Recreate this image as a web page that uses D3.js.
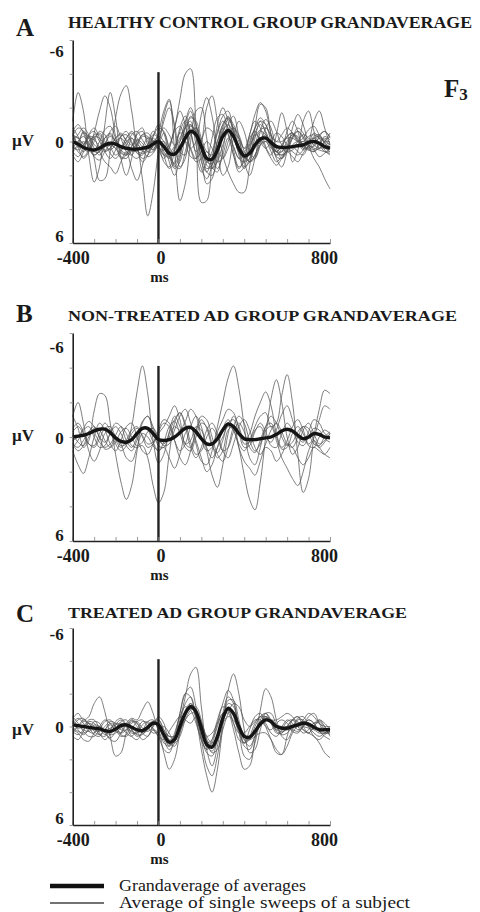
<!DOCTYPE html>
<html>
<head>
<meta charset="utf-8">
<script src="https://cdn.jsdelivr.net/npm/d3@7"></script>
<style>
  body { margin: 0; background: #fff; }
  svg { display: block; }
  text { font-family: "Liberation Serif", "Times New Roman", serif; fill: #1a1a1a; }
</style>
</head>
<body>
<div id="chart"></div>
<script>
// sample times (ms), one value every 25 ms
const timesMs = [-400,-375,-350,-325,-300,-275,-250,-225,-200,-175,-150,-125,-100,-75,-50,-25,
  0,25,50,75,100,125,150,175,200,225,250,275,300,325,350,375,
  400,425,450,475,500,525,550,575,600,625,650,675,700,725,750,775,800];

const xTickValues = [-400,-300,-200,-100,0,100,200,300,400,500,600,700,800];
const xTickLabels = [-400, 0, 800];
const yTickValues = [-6,-4,-2,0,2,4,6];
const yTickLabels = [-6, 0, 6];

const panelLetters = ["A", "B", "C"];
const panelTitles = [
  "HEALTHY CONTROL GROUP GRANDAVERAGE",
  "NON-TREATED AD GROUP GRANDAVERAGE",
  "TREATED AD GROUP GRANDAVERAGE"
];
const legendLabels = ["Grandaverage of averages", "Average of single sweeps of a subject"];

// µV, negative up. Grand averages
const gaA = [0,0.15,0.35,0.45,0.5,0.4,0.2,0.1, 0.15,0.3,0.4,0.45,0.45,0.4,0.35,0.15,
  0,0.3,0.7,0.75,0.4,-0.2,-0.6,-0.4, 0.3,1.0,1.05,0.5,-0.3,-0.65,-0.3,0.4,
  0.85,0.7,0.2,-0.15,-0.2,0.05,0.3,0.35, 0.35,0.3,0.25,0.2,0.05,0,0.1,0.3,0.4];
const gaB = [0,-0.05,-0.1,-0.2,-0.35,-0.45,-0.45,-0.25, 0.05,0.25,0.3,0.15,-0.2,-0.5,-0.5,-0.2,
  0.15,0.2,0.15,0,-0.25,-0.5,-0.55,-0.3, 0.1,0.4,0.4,0.1,-0.4,-0.75,-0.6,-0.2,
  0.1,0.15,0.15,0.1,0.05,0,-0.15,-0.35, -0.45,-0.35,-0.1,0.1,0,-0.2,-0.15,0,0.05];
const gaC = [-0.1,-0.05,0,0.05,0.1,0.15,0.25,0.3, 0.15,-0.05,-0.1,0.05,0.2,0.25,0.05,-0.2,
  -0.1,0.5,0.95,0.8,0,-0.8,-1.2,-0.9, 0.1,1.1,1.25,0.6,-0.5,-1.1,-0.8,0,
  0.6,0.65,0.3,-0.15,-0.4,-0.3,0,0.1, 0.1,0,-0.1,-0.2,-0.15,0.05,0.2,0.2,0.2];

// single-subject averages
const subjectsA = [
  [-1.2,-2.9,-1.8,0.8,2.4,1.5,-1.0,-2.9, -1.4,1.0,2.0,1.0,-0.5,-0.8,0.2,0.5, 0.2,-0.5,0.5,1.5,0.8,-1.0,-1.8,-0.5, 1.2,1.8,1.0,-0.5,-1.2,-0.8,0.3,1.0, 1.2,0.5,-0.5,-1.0,-0.6,0.2,0.6,0.3, -0.3,-0.5,0.0,0.5,0.3,-0.3,-0.4,0.1,0.4],
  [0.5,0.2,-0.6,-0.2,1.0,2.3,2.2,0.6, -1.4,-2.8,-3.3,-1.8,0.3,1.2,0.8,-0.3, -1.0,-0.5,0.8,1.6,1.2,-0.3,-1.5,-1.0, 0.5,1.8,2.0,1.0,-0.5,-1.3,-0.8,0.5, 1.5,1.2,0.2,-0.6,-0.4,0.3,0.8,0.6, 0.0,-0.4,-0.2,0.3,0.5,0.2,-0.2,-0.1,0.2],
  [-0.5,0.3,1.0,0.6,-0.5,-1.8,-2.7,-2.0, -0.3,1.0,0.8,-0.2,0.3,2.2,4.4,3.0, 0.5,-1.5,-2.4,-0.8,1.5,1.0,-1.0,-0.5, 1.0,2.5,2.2,0.6,-0.8,-1.5,-0.6,0.8, 1.6,1.0,-0.2,-1.2,-1.0,0.0,0.9,1.0, 0.4,-0.3,-0.6,-0.2,0.4,0.6,0.2,-0.2,0.1],
  [0.3,0.0,-0.5,-0.3,0.4,0.8,0.3,-0.6, -0.9,-0.2,0.6,0.8,0.2,-0.4,-0.5,0.0, 0.4,0.5,0.2,-0.8,-2.5,-4.0,-4.3,-1.0, 3.6,3.5,1.2,-1.0,-2.0,-1.2,0.5,1.5, 1.2,0.2,-0.8,-1.2,-0.5,0.4,0.6,0.2, -0.3,-0.5,-0.1,0.4,0.3,-0.2,-0.3,0.1,0.3],
  [-0.3,-0.8,-0.6,0.2,0.8,0.5,-0.2,-0.5, 0.0,0.6,0.8,0.3,-0.4,-0.6,0.0,0.5, -0.5,-1.8,-2.5,0.5,3.5,2.5,0.0,-1.8, -2.0,-0.2,1.5,1.8,0.5,-1.0,-1.5,-0.3, 1.2,2.0,1.0,-0.6,-1.3,-0.8,0.4,1.0, 0.6,-0.2,-0.6,-0.3,0.3,0.5,0.1,-0.3,-0.1],
  [0.8,1.2,0.6,-0.4,-0.8,-0.2,0.6,1.0, 0.5,-0.3,-0.6,0.0,0.7,0.8,0.2,-0.4, -0.2,0.6,1.0,0.5,-0.6,-1.2,-0.5,0.6, 0.0,-2.0,-2.7,-1.2,0.8,1.8,2.5,3.0, 3.0,1.5,-0.8,-2.2,-2.0,-0.4,1.0,1.5, 0.6,-0.8,-1.6,-1.0,0.2,1.0,1.5,2.2,2.8],
  [-0.8,-0.3,0.4,0.6,0.0,-0.6,-0.4,0.3, 0.8,0.5,-0.2,-0.5,0.0,0.6,0.5,0.0, 0.3,1.2,1.5,0.6,-0.8,-1.5,-0.6,0.8, 1.8,1.2,-0.2,-1.4,-1.6,-0.5,0.8,1.6, 1.0,-0.4,-1.2,-0.8,0.3,0.8,-0.4,-1.7, -0.6,1.2,0.5,-1.2,-1.8,-0.6,0.4,0.0,-0.5],
  [0.2,0.6,0.9,0.5,-0.2,-0.5,0.0,0.7, 1.0,0.6,0.0,-0.2,0.4,1.0,0.8,0.2, -0.3,0.0,1.2,2.0,1.0,-0.8,-1.2,0.2, 1.6,2.2,1.4,0.0,-0.8,-0.4,0.8,1.8, 1.5,0.4,-0.4,-0.2,0.4,1.0,1.4,1.0, 0.5,0.3,0.6,0.8,0.2,-0.5,-0.2,0.5,0.8],
  [-0.6,-1.0,-0.5,0.3,0.5,0.0,-0.7,-0.9, -0.2,0.4,0.2,-0.4,-0.6,-0.1,0.3,-0.3, -0.8,-0.6,0.3,0.8,0.0,-1.2,-2.0,-1.0, 0.5,1.2,0.6,-0.6,-1.5,-1.8,-0.6,0.6, 0.8,0.0,-0.8,-1.4,-1.0,-0.3,0.0,-0.4, -0.8,-0.5,0.0,-0.2,-0.7,-0.9,-0.4,0.0,0.2],
  [0.6,0.9,0.4,-0.3,-0.2,0.6,1.2,1.5, 1.9,1.2,0.6,1.6,2.3,1.4,0.2,-0.6, -0.2,0.8,1.6,1.2,0.2,0.0,0.5,1.2, 1.0,0.6,1.0,1.6,0.8,-0.2,0.3,1.0, 0.9,1.2,1.0,0.2,0.0,0.6,1.2,0.9, 0.6,0.9,1.2,0.7,0.3,0.5,0.9,0.7,0.4],
  [-0.2,0.3,0.2,-0.4,-0.6,0.0,0.5,0.4, -0.2,-0.5,0.0,0.5,0.2,-0.3,-0.2,0.4, 0.0,-1.2,-2.0,-1.0,0.6,0.8,-0.4,-0.8, 0.2,1.4,1.6,0.4,-1.0,-1.4,-0.5,0.6, 0.6,-0.2,-0.6,0.0,0.4,0.0,-0.5,-0.3, 0.2,0.4,0.0,-0.4,-0.2,0.2,0.4,0.0,-0.3],
  [0.0,-0.4,-0.8,-0.4,0.2,0.3,-0.2,-0.4, 0.0,0.3,-0.2,-0.6,-0.2,0.3,0.2,-0.2, 0.2,0.8,0.4,-0.8,-1.8,-1.0,0.4,0.0, -1.6,-2.6,-1.5,0.6,2.0,1.5,-0.2,-1.2, -0.6,0.6,1.0,0.2,-0.8,-1.2,-0.6,0.2, 0.4,-0.2,-0.8,-0.5,0.2,0.3,-0.3,-0.6,-0.2],
  [0.4,0.0,-0.3,0.1,0.6,0.6,0.1,-0.3, 0.0,0.5,0.7,0.3,-0.1,0.1,0.6,0.6, 0.1,0.2,0.6,0.3,-0.5,-0.4,0.4,1.0, 0.6,0.0,0.4,1.2,1.0,0.0,-0.8,-0.4, 0.6,1.2,0.8,0.0,-0.4,0.2,0.8,0.4, -0.6,-1.2,-0.6,0.4,0.0,-1.2,-1.8,-0.8,0.2],
  [-0.4,0.2,0.6,0.2,-0.4,-0.4,0.2,0.5, 0.2,-0.3,-0.4,0.1,0.5,0.3,-0.2,-0.1, 0.5,1.0,0.4,-0.6,-0.9,0.0,0.9,1.0, 0.0,-0.8,-0.6,0.4,1.0,0.4,-0.4,-0.2, 0.4,-0.4,-1.6,-2.3,-1.8,-0.4,0.6,0.8, 0.2,-0.4,-0.3,0.2,0.4,0.0,-0.4,-0.6,-0.3],
  [0.3,0.5,0.2,-0.2,-0.1,0.3,0.6,0.4, 0.0,-0.2,0.2,0.8,1.0,0.6,0.2,0.0, 0.3,0.8,0.9,0.4,-0.2,-0.8,-1.0,-0.2, 0.8,1.6,1.4,0.4,-0.6,-1.0,-0.4,0.6, 1.2,1.0,0.3,-0.2,-0.3,0.2,0.6,0.6, 0.4,0.6,0.8,0.5,0.0,-0.2,0.2,0.6,0.7],
  [-0.3,-0.2,0.2,0.5,0.8,0.6,0.3,0.2, 0.4,0.7,0.8,0.6,0.6,0.7,0.6,0.3, -0.1,0.2,0.9,1.3,0.6,-0.4,-0.9,-0.6, 0.4,1.2,1.3,0.6,-0.2,-0.6,-0.2,0.6, 1.0,0.8,0.4,0.0,-0.2,0.0,0.2,0.4, 0.6,0.5,0.2,0.0,0.2,0.4,0.5,0.6,0.6],
  [0.6,0.3,0.0,0.3,0.9,1.1,0.6,0.2, 0.4,0.9,1.0,0.5,0.2,0.5,0.9,0.7, 0.2,0.0,0.6,1.4,1.6,0.6,-0.6,-0.8, 0.0,0.9,1.6,1.2,0.2,-0.6,-0.8,0.0, 0.8,1.2,0.8,0.2,0.0,0.2,0.6,0.8, 0.6,0.2,0.0,0.2,0.5,0.6,0.4,0.4,0.6],
  [-0.4,-0.2,0.1,0.0,-0.3,-0.2,0.2,0.2, -0.2,-0.4,-0.1,0.2,0.0,-0.4,-0.3,0.0, -0.4,-0.8,-0.4,0.2,0.0,-0.8,-1.4,-1.2, -0.2,0.6,0.8,0.0,-1.0,-1.4,-1.0,-0.2, 0.4,0.2,-0.3,-0.7,-0.8,-0.4,0.0,0.0, -0.2,-0.2,0.0,0.0,-0.3,-0.4,-0.2,0.0,0.0]
];

const subjectsB = [
  [-0.5,-0.8,-0.3,0.4,0.5,-0.2,-0.8,-0.4, 0.4,0.8,0.5,-0.6,-2.6,-4.1,-2.5,0.2, 1.5,1.0,-0.3,-1.2,-0.6,0.4,0.6,-0.3, -1.0,-0.5,0.5,0.9,0.2,-0.8,-1.0,-0.2, 0.6,0.5,-0.3,-0.8,-0.3,0.5,0.6,-0.2, -0.8,-0.4,0.3,0.5,0.0,-0.5,-0.4,0.1,0.3],
  [-1.2,-0.5,0.6,0.2,-1.5,-2.5,-2.4,-0.8, 1.0,2.6,3.6,2.8,0.8,-0.8,-1.2,-0.4, 0.5,0.6,-0.2,-1.0,-1.4,-0.6,0.6,1.2, 0.6,-0.4,-0.8,-0.2,0.8,1.2,0.4,-0.6, -1.0,-0.4,0.6,1.0,0.4,-0.4,-0.8,-0.3, 0.4,0.6,0.0,-0.6,-0.5,0.2,0.6,0.3,-0.2],
  [0.4,0.8,0.5,-0.3,-0.6,0.0,0.7,0.6, -0.1,-0.6,-0.2,0.5,0.6,0.5,1.2,2.8, 3.8,3.2,1.0,-0.8,-1.4,-0.8,0.3,1.0, 0.8,0.0,-0.5,0.0,0.8,0.6,-0.3,-0.8, -0.3,0.6,0.9,0.2,-0.6,-0.8,0.0,0.7, 0.6,-0.2,-0.6,-0.2,0.5,0.6,0.0,-0.4,-0.2],
  [-0.2,0.3,0.5,0.0,-0.5,-0.4,0.2,0.6, 0.3,-0.3,-0.5,0.0,0.5,0.3,-0.3,-0.5, 0.0,0.5,0.4,-0.4,-1.2,-1.6,-0.8,0.4, 1.4,1.6,0.8,-0.6,-2.0,-3.4,-4.1,-2.8, -0.6,1.2,1.6,0.6,-0.6,-1.2,-0.8,0.0, 0.5,0.3,-0.3,-0.6,-0.2,0.4,0.5,0.0,-0.3],
  [0.6,0.2,-0.4,-0.6,0.0,0.6,0.5,-0.2, -0.6,-0.2,0.5,0.8,0.2,-0.5,-0.4,0.3, 0.8,0.3,-0.6,-0.9,-0.2,0.6,0.8,0.0, -0.8,-0.6,0.4,1.2,0.8,-0.4,-0.6,0.6, 2.2,3.6,4.2,2.6,0.0,-2.2,-3.3,-2.0, 0.0,1.0,0.6,-0.4,-0.8,-0.2,0.4,0.2,-0.2],
  [-0.3,-0.6,-0.2,0.4,0.6,0.1,-0.5,-0.6, 0.0,0.5,0.4,-0.2,-0.5,-0.1,0.4,0.3, -0.3,-0.8,-0.6,0.2,0.8,0.4,-0.6,-1.2, -0.6,0.6,1.2,0.6,-0.5,-1.0,-0.4,0.4, 0.8,0.2,-0.6,-1.2,-1.4,-0.6,-0.8,-2.4, -3.6,-2.0,1.0,3.2,2.4,0.0,-1.6,-2.7,-2.5],
  [-1.2,-2.0,-0.8,0.8,1.4,0.8,-0.2,-0.4, 0.2,0.6,0.2,-0.4,-0.6,0.0,0.6,0.4, -0.2,-0.6,-1.2,-1.8,-1.0,0.4,0.2,-0.6, -0.4,0.8,2.2,2.9,1.6,-0.2,-1.2,-0.6, 0.2,-0.2,-1.2,-2.0,-2.6,-1.8,-0.2,0.6, 0.2,-0.6,-1.0,-0.4,0.4,0.0,-1.0,-1.8,-1.6],
  [0.8,1.6,2.1,1.2,0.0,-0.8,-0.4,0.4, 0.8,0.2,-0.6,-0.8,0.0,0.8,1.0,0.4, -0.4,-1.0,-0.8,0.2,1.2,1.6,0.8,-0.4, -1.2,-1.0,0.0,1.0,1.4,0.6,-0.6,-1.2, -0.8,0.2,0.8,0.4,-0.4,-0.6,0.2,1.2, 1.8,2.4,2.8,2.0,0.8,0.2,0.6,1.0,1.2],
  [0.2,0.0,-0.5,-0.9,-0.6,0.0,0.3,-0.2, -0.8,-0.6,0.2,0.6,0.0,-0.9,-1.2,-0.6, 0.2,0.4,0.0,-0.6,-0.4,-0.9,-1.6,-1.2, 0.0,0.8,0.6,-0.3,-1.0,-1.6,-1.4,-0.5, 0.4,0.3,-0.4,-0.6,0.0,0.3,-0.4,-1.3, -1.8,-1.0,0.0,0.3,-0.3,-1.0,-0.8,-0.2,0.0],
  [0.4,0.6,0.2,-0.3,-0.2,0.3,0.6,0.4, 0.0,0.4,1.2,1.4,0.6,-0.2,0.0,0.5, 0.8,0.6,1.2,1.8,1.0,-0.2,-0.6,0.2, 1.2,2.0,1.6,0.6,0.0,-0.6,-0.4,0.6, 1.4,1.8,2.2,1.4,0.6,0.8,1.4,1.0, 0.4,0.6,1.2,1.6,1.2,0.6,0.8,1.0,0.6]
];

const subjectsC = [
  [0.4,0.0,-0.4,-0.2,0.3,0.5,0.2,-0.2, 0.0,0.4,0.2,-0.3,-0.2,0.3,0.2,-0.3, -0.2,0.6,1.2,0.8,-0.4,-1.8,-3.2,-3.6, -1.2,1.4,2.4,1.2,-0.8,-1.8,-1.4,0.0, 1.0,0.8,0.0,-0.6,-0.8,-0.2,0.4,0.4, 0.0,-0.4,-0.3,0.2,0.4,0.0,-0.3,0.0,0.4],
  [-0.3,0.2,0.5,0.2,-0.3,-0.2,0.4,0.7, 0.3,-0.3,-0.4,0.2,0.6,0.4,-0.1,-0.3, 0.0,0.8,1.4,1.0,-0.2,-1.4,-1.8,-0.6, 1.4,3.0,4.0,2.6,0.0,-2.2,-3.2,-2.0, 0.2,1.6,1.4,0.2,-0.8,-0.8,-0.1,0.5, 0.4,0.0,-0.4,-0.4,0.0,0.4,0.6,0.4,0.2],
  [0.6,0.8,0.3,-0.3,-0.2,0.4,0.8,0.5, -0.1,-0.4,0.0,0.6,0.8,0.3,-0.3,-0.4, 0.2,1.0,1.2,0.4,-0.6,-1.2,-1.0,-0.2, 0.8,1.4,1.0,0.0,-0.8,-0.8,0.2,1.6, 2.6,2.4,0.8,-1.0,-2.3,-1.8,-0.4,0.6, 0.8,0.2,-0.5,-0.6,0.0,0.6,0.8,0.5,0.3],
  [-0.5,-0.8,-0.4,-0.6,-1.4,-1.8,-0.9,0.6, 1.8,1.6,0.4,-0.4,-0.2,0.4,0.6,0.2, 0.4,1.6,2.6,2.0,0.4,-1.0,-1.4,-0.6, 0.6,1.6,1.8,0.8,-0.4,-1.0,-0.6,0.4, 1.0,0.6,-0.2,-0.6,-0.2,0.4,0.6,0.2, -0.3,-0.4,0.0,0.4,0.2,-0.2,-0.2,0.2,0.5],
  [0.2,0.4,0.8,0.9,0.4,0.0,0.3,0.8, 0.9,0.4,-0.2,-0.5,-0.4,-1.0,-1.5,-0.8, 0.2,0.4,0.6,0.6,0.2,-0.4,-0.8,-0.8, -0.2,0.6,1.0,0.6,-0.2,-0.6,-0.4,0.2, 0.6,0.8,0.6,0.4,0.4,0.8,1.4,1.7, 1.2,0.4,0.0,0.2,0.4,0.6,1.0,1.6,1.9],
  [-0.6,-0.2,0.3,0.6,0.6,0.2,-0.3,-0.4, 0.0,0.5,0.6,0.2,-0.3,-0.4,0.0,0.4, 0.3,0.0,0.4,1.0,0.6,-0.4,-1.0,-1.2, -0.4,0.8,1.6,1.4,0.2,-0.8,-1.4,-1.2, -0.4,0.0,-0.3,-0.6,-0.6,-0.4,-0.4,-0.6, -0.8,-0.6,-0.2,-0.4,-0.8,-0.6,-0.2,0.0,0.0],
  [0.0,-0.4,-0.5,0.0,0.5,0.6,0.2,-0.1, 0.2,0.6,0.5,0.0,0.3,0.8,0.6,0.0, -0.4,0.2,1.0,1.2,0.4,-0.6,-1.4,-1.0, 0.0,0.8,1.2,0.8,-0.4,-1.4,-1.2,0.0, 1.2,1.4,0.6,-0.4,-0.8,-0.4,0.3,0.4, 0.0,-0.4,-0.6,-0.3,0.0,-0.2,-0.4,0.0,0.6],
  [-0.2,0.1,0.0,-0.4,-0.4,0.1,0.5,0.2, -0.3,-0.5,-0.1,0.4,0.4,-0.1,-0.3,0.1, 0.6,0.8,0.3,-0.2,-0.6,-0.4,-0.2,-0.6, -0.2,0.6,0.4,-0.2,-0.8,-1.0,-0.2,0.8, 1.0,0.2,-0.6,-0.8,0.0,0.8,1.6,1.7, 0.6,-0.4,-0.6,0.0,0.4,0.0,-0.4,-0.2,0.2],
  [0.3,0.5,0.2,-0.2,0.0,0.5,0.6,0.2, -0.2,0.0,0.4,0.6,0.2,-0.3,-0.2,0.2, 0.6,1.4,1.6,0.6,-0.8,-2.0,-2.4,-1.2, 0.8,2.4,3.0,1.8,-0.2,-1.6,-1.6,-0.4, 0.8,1.2,0.6,-0.2,-0.6,-0.4,0.0,0.2, 0.2,0.2,0.3,0.0,-0.4,-0.2,0.3,0.6,0.8],
  [-0.2,-0.5,-0.2,0.3,0.4,0.0,-0.4,-0.2, 0.3,0.4,-0.1,-0.4,0.0,0.4,0.2,-0.3, -0.4,0.2,0.6,0.6,0.0,-0.8,-1.2,-0.6, 0.4,1.0,0.8,-0.2,-1.4,-2.2,-1.6,0.2, 1.8,2.0,1.0,-0.2,-0.6,-0.2,0.2,0.0, -0.4,-0.2,0.2,0.0,-0.6,-0.8,-0.2,0.4,0.4],
  [0.2,0.0,-0.3,-0.2,0.2,0.3,0.0,-0.3, -0.2,0.2,0.2,-0.2,-0.3,0.1,0.3,0.0, -0.6,-0.2,0.8,0.6,-0.8,-2.0,-1.8,-0.4, 0.8,1.4,0.8,-0.4,-1.2,-1.0,-0.2,0.4, 0.4,0.0,-0.4,-0.4,0.0,0.2,-0.2,-0.4, -0.2,0.3,0.4,0.0,-0.4,-0.2,0.3,0.4,0.0],
  [0.1,0.3,0.4,0.2,-0.1,0.0,0.3,0.5, 0.4,0.1,-0.1,0.2,0.5,0.5,0.1,-0.2, 0.0,0.6,1.1,0.9,0.1,-0.7,-1.1,-0.8, 0.2,1.2,1.5,0.8,-0.3,-1.0,-0.7,0.2, 0.8,0.8,0.3,-0.2,-0.4,-0.2,0.2,0.3, 0.2,0.0,-0.1,0.0,0.1,0.2,0.4,0.4,0.3],
  [-0.3,-0.1,0.2,0.3,0.1,0.0,0.2,0.1, -0.1,-0.2,0.0,0.3,0.4,0.2,0.0,-0.1, -0.2,0.4,0.9,0.7,-0.1,-0.9,-1.3,-1.0, 0.0,1.0,1.2,0.5,-0.6,-1.2,-0.9,-0.1, 0.5,0.6,0.2,-0.3,-0.5,-0.4,-0.1,0.0, 0.0,-0.1,-0.2,-0.3,-0.2,0.0,0.1,0.1,0.2]
];

const W = 480, H = 912;
const svg = d3.select("#chart").append("svg").attr("width", W).attr("height", H);

const x = d3.scaleLinear().domain([-400, 800]).range([72.7, 330]);

const panels = [
  { ga: gaA, subjects: subjectsA, top: 40, bottom: 243, titleY: 28, titleSize: 17, titleLen: 404, letterY: 36, uvY: 146, topLab: 10, botLab: -8 },
  { ga: gaB, subjects: subjectsB, top: 333, bottom: 541, titleY: 321, titleSize: 14, titleLen: 389, letterY: 322, uvY: 441, topLab: 13, botLab: -7 },
  { ga: gaC, subjects: subjectsC, top: 628, bottom: 825, titleY: 618, titleSize: 15, titleLen: 339, letterY: 622, uvY: 735, topLab: 5, botLab: -8 }
];

panels.forEach((p, k) => {
  const y = d3.scaleLinear().domain([-6, 6]).range([p.top, p.bottom]);
  const g = svg.append("g");

  const line = d3.line()
    .x((d, i) => x(timesMs[i]))
    .y(d => y(d))
    .curve(d3.curveCatmullRom.alpha(0.5));

  // subject traces
  g.append("g").selectAll("path")
    .data(p.subjects)
    .join("path")
    .attr("d", line)
    .attr("fill", "none")
    .attr("stroke", "#555")
    .attr("stroke-width", 0.9)
    .attr("stroke-opacity", 0.85);

  // stimulus onset
  g.append("line")
    .attr("x1", x(0)).attr("x2", x(0))
    .attr("y1", y(-4.1)).attr("y2", y(6))
    .attr("stroke", "#222").attr("stroke-width", 2.4);

  // grand average
  g.append("path")
    .datum(p.ga)
    .attr("d", line)
    .attr("fill", "none")
    .attr("stroke", "#151515")
    .attr("stroke-width", 3.4)
    .attr("stroke-linejoin", "round");

  // axes
  const xAxis = g.append("g")
    .attr("transform", `translate(0,${y(6)})`)
    .call(d3.axisBottom(x)
      .tickValues(xTickValues)
      .tickSize(-4)
      .tickSizeOuter(0)
      .tickPadding(8)
      .tickFormat(d => xTickLabels.includes(d) ? String(d) : ""));

  const yAxis = g.append("g")
    .attr("transform", `translate(${x(-400)},0)`)
    .call(d3.axisLeft(y)
      .tickValues(yTickValues)
      .tickSize(3)
      .tickSizeOuter(0)
      .tickPadding(6)
      .tickFormat(d => yTickLabels.includes(d) ? String(d) : ""));

  [xAxis, yAxis].forEach(a => {
    a.select(".domain").attr("stroke", "#222").attr("stroke-width", 1.6);
    a.selectAll(".tick line").attr("stroke", "#999").attr("stroke-width", 1);
    a.selectAll("text")
      .attr("fill", "#1a1a1a")
      .style("font-family", '"Liberation Serif", serif')
      .style("font-weight", "bold");
  });
  xAxis.selectAll("text").style("font-size", "18px")
    .attr("dx", d => d === 0 ? 2 : d === 800 ? -6 : 0);
  yAxis.selectAll("text").style("font-size", "17px")
    .attr("dy", d => d === -6 ? p.topLab + 6 : d === 6 ? p.botLab + 6 : 6);

  // unit labels
  g.append("text")
    .attr("x", x(0) + 1).attr("y", y(6) + 39)
    .attr("text-anchor", "middle")
    .style("font-size", "15px").style("font-weight", "bold")
    .text("ms");
  g.append("text")
    .attr("x", 12).attr("y", p.uvY)
    .style("font-size", "17px").style("font-weight", "bold")
    .text("µV");

  // panel letter and title
  g.append("text")
    .attr("x", 16).attr("y", p.letterY)
    .style("font-size", "25px").style("font-weight", "bold")
    .text(panelLetters[k]);
  g.append("text")
    .attr("x", 68).attr("y", p.titleY)
    .attr("textLength", p.titleLen).attr("lengthAdjust", "spacingAndGlyphs")
    .style("font-size", p.titleSize + "px").style("font-weight", "bold")
    .text(panelTitles[k]);
});

// electrode label
const f3 = svg.append("text")
  .attr("x", 444).attr("y", 97)
  .style("font-size", "25px").style("font-weight", "bold");
f3.append("tspan").text("F");
f3.append("tspan").attr("dy", 3).style("font-size", "17px").text("3");

// legend
const legend = svg.append("g");
legendLabels.forEach((label, i) => {
  const ly = 886 + i * 17;
  legend.append("line")
    .attr("x1", 50).attr("x2", 104)
    .attr("y1", ly).attr("y2", ly)
    .attr("stroke", i === 0 ? "#111" : "#444")
    .attr("stroke-width", i === 0 ? 4.5 : 1.3);
  legend.append("text")
    .attr("x", 119).attr("y", ly + 5)
    .attr("textLength", i === 0 ? 187 : 291).attr("lengthAdjust", "spacingAndGlyphs")
    .style("font-size", "16px")
    .attr("fill", "#333")
    .text(label);
});
</script>
</body>
</html>
